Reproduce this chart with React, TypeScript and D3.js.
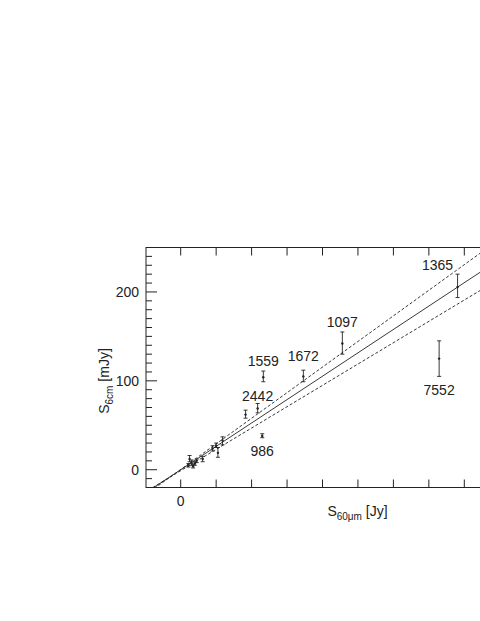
import React from "react";
import * as d3 from "d3";

// galaxy (NGC) labels, S60um [Jy], S6cm [mJy] with error range
const galaxyIds = ["1365", "7552", "1097", "1672", "1559", "2442", "986", "", "", "", "", "", "", "", "", "", "", "", ""];
const flux60 = [7.81, 7.29, 4.56, 3.46, 2.33, 2.17, 2.3, 1.83, 1.18, 1.05, 1.0, 0.9, 0.62, 0.45, 0.4, 0.35, 0.3, 0.25, 0.22];
const flux6cm = [205.6, 125, 142, 105, 104, 69, 38, 62, 33, 19, 27, 24, 12, 10, 7, 4, 8, 12, 5];
const errLow = [193.7, 105, 130, 99, 99, 64, 36, 58, 28, 14, 25, 21, 9, 8, 5, 2, 5, 9, 3];
const errHigh = [220, 145, 155, 112, 111, 74.5, 40.5, 67, 37, 25, 30, 27, 15, 12, 9, 6, 11, 16, 7];

// label offsets from the point, pixels
const labelDx = [-20, 0, 0, 0, 0, 0, 0];
const labelDy = [-22, 31, -22, -20, -16, -12, 15];

// fitted relation and its bounds: S6cm = slope * S60 + intercept
const fitSlopes = [26.3, 28.8, 24.0];
const fitIntercepts = [0, 0.3, -1.1];
const fitDashed = [false, true, true];

const yMajorTicks = [0, 100, 200];
const xTicks = [0, 1, 2, 3, 4, 5, 6, 7, 8, 9];
const xTickLabels = ["0"];

const FONT = "'Liberation Sans', Arial, Helvetica, sans-serif";
const INK = "#222";

const App = () => {
  const ref = React.useRef<SVGSVGElement>(null);

  React.useEffect(() => {
    const svg = d3.select(ref.current);
    svg.selectAll("*").remove();

    const frame = { left: 146, top: 247.5, right: 620, bottom: 487.5 };
    const x = d3.scaleLinear([0, 8], [180.7, 464.3]);
    const y = d3.scaleLinear([-20, 250], [frame.bottom, frame.top]);

    svg.append("defs").append("clipPath").attr("id", "plotclip")
      .append("rect")
      .attr("x", frame.left).attr("y", frame.top)
      .attr("width", frame.right - frame.left).attr("height", frame.bottom - frame.top);

    const plot = svg.append("g").attr("clip-path", "url(#plotclip)");

    // fit lines
    fitSlopes.forEach((slope, i) => {
      const pts = [-2, 12].map(v => [v, slope * v + fitIntercepts[i]] as [number, number]);
      plot.append("path")
        .attr("d", d3.line().x(d => x(d[0])).y(d => y(d[1]))(pts))
        .attr("fill", "none")
        .attr("stroke", INK)
        .attr("stroke-width", 0.9)
        .attr("stroke-dasharray", fitDashed[i] ? "3,2" : null);
    });

    // error bars + points
    flux60.forEach((v, i) => {
      const cx = x(v);
      const g = plot.append("g").attr("stroke", INK).attr("stroke-width", 0.9);
      g.append("line").attr("x1", cx).attr("x2", cx).attr("y1", y(errLow[i])).attr("y2", y(errHigh[i]));
      g.append("line").attr("x1", cx - 2).attr("x2", cx + 2).attr("y1", y(errLow[i])).attr("y2", y(errLow[i]));
      g.append("line").attr("x1", cx - 2).attr("x2", cx + 2).attr("y1", y(errHigh[i])).attr("y2", y(errHigh[i]));
      plot.append("circle").attr("cx", cx).attr("cy", y(flux6cm[i])).attr("r", 1.2).attr("fill", INK);
    });

    // point labels
    galaxyIds.forEach((id, i) => {
      if (!id) return;
      svg.append("text")
        .attr("x", x(flux60[i]) + labelDx[i])
        .attr("y", y(flux6cm[i]) + labelDy[i])
        .attr("text-anchor", "middle")
        .attr("dominant-baseline", "central")
        .attr("font-family", FONT)
        .attr("font-size", 14)
        .attr("fill", INK)
        .text(id);
    });

    // frame
    svg.append("rect")
      .attr("x", frame.left).attr("y", frame.top)
      .attr("width", frame.right - frame.left).attr("height", frame.bottom - frame.top)
      .attr("fill", "none").attr("stroke", INK).attr("stroke-width", 1);

    // x ticks, top and bottom, pointing inward
    xTicks.forEach(t => {
      const px = x(t);
      svg.append("line").attr("x1", px).attr("x2", px).attr("y1", frame.top).attr("y2", frame.top + 8)
        .attr("stroke", INK);
      svg.append("line").attr("x1", px).attr("x2", px).attr("y1", frame.bottom).attr("y2", frame.bottom - 8)
        .attr("stroke", INK);
    });
    xTickLabels.forEach((lbl, i) => {
      svg.append("text")
        .attr("x", x(xTicks[i])).attr("y", frame.bottom + 18)
        .attr("text-anchor", "middle")
        .attr("font-family", FONT).attr("font-size", 14).attr("fill", INK)
        .text(lbl);
    });

    // y ticks: minor every 10, major every 100
    d3.range(-10, 251, 10).forEach(t => {
      const major = yMajorTicks.includes(t);
      svg.append("line")
        .attr("x1", frame.left).attr("x2", frame.left + (major ? 11 : 6))
        .attr("y1", y(t)).attr("y2", y(t))
        .attr("stroke", INK);
    });
    yMajorTicks.forEach(t => {
      svg.append("text")
        .attr("x", frame.left - 7).attr("y", y(t))
        .attr("text-anchor", "end")
        .attr("dominant-baseline", "central")
        .attr("font-family", FONT).attr("font-size", 14).attr("fill", INK)
        .text(String(t));
    });

    // axis titles
    const xt = svg.append("text")
      .attr("x", 357.5).attr("y", 516)
      .attr("text-anchor", "middle")
      .attr("font-family", FONT).attr("font-size", 14).attr("fill", INK);
    xt.append("tspan").text("S");
    xt.append("tspan").attr("font-size", 10).attr("dy", 4).text("60\u03bcm");
    xt.append("tspan").attr("dy", -4).text(" [Jy]");

    const yt = svg.append("text")
      .attr("transform", "translate(109,381) rotate(-90)")
      .attr("text-anchor", "middle")
      .attr("font-family", FONT).attr("font-size", 14).attr("fill", INK);
    yt.append("tspan").text("S");
    yt.append("tspan").attr("font-size", 10).attr("dy", 4).text("6cm");
    yt.append("tspan").attr("dy", -4).text(" [mJy]");
  }, []);

  return (
    <svg
      ref={ref}
      width={480}
      height={621}
      style={{ position: "absolute", left: 0, top: 0, background: "#fff" }}
    />
  );
};

export default App;
